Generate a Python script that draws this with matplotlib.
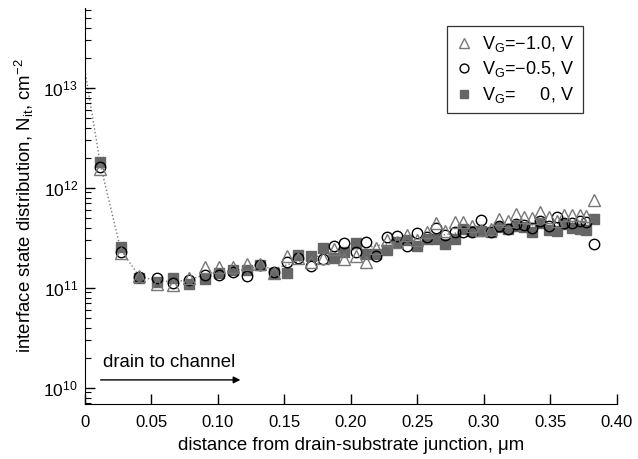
import numpy as np
import matplotlib
matplotlib.use("Agg")
import matplotlib.pyplot as plt
from matplotlib.ticker import LogLocator, FixedLocator

plt.rcParams['font.family'] = ['Liberation Sans', 'DejaVu Sans']
plt.rcParams['mathtext.fontset'] = 'custom'
plt.rcParams['mathtext.rm'] = 'Liberation Sans'
plt.rcParams['mathtext.it'] = 'Liberation Sans:italic'
plt.rcParams['mathtext.default'] = 'regular'

# position along channel, um (shared by all three gate voltages)
x_pos = [0.0117, 0.027, 0.041, 0.054, 0.066, 0.078, 0.090, 0.101, 0.1115, 0.122,
         0.132, 0.142, 0.152, 0.1605, 0.170, 0.179, 0.187, 0.195, 0.204, 0.211,
         0.219, 0.227, 0.235, 0.242, 0.250, 0.257, 0.264, 0.271, 0.278, 0.284,
         0.291, 0.298, 0.305, 0.311, 0.318, 0.324, 0.330, 0.336, 0.342, 0.349,
         0.355, 0.360, 0.366, 0.372, 0.377, 0.383]

# Nit, cm^-2
nit_m10 = [1.54e12, 2.22e11, 1.32e11, 1.10e11, 1.06e11, 1.25e11, 1.63e11, 1.63e11, 1.63e11, 1.73e11,
           1.73e11, 1.42e11, 2.09e11, 1.98e11, 1.83e11, 1.98e11, 2.44e11, 1.94e11, 2.06e11, 1.83e11,
           2.49e11, 3.00e11, 2.90e11, 3.39e11, 3.00e11, 3.66e11, 4.44e11, 3.74e11, 4.52e11, 4.52e11,
           4.17e11, 3.80e11, 3.85e11, 4.87e11, 4.70e11, 5.50e11, 5.16e11, 5.00e11, 5.80e11, 5.16e11,
           4.62e11, 5.37e11, 5.37e11, 5.37e11, 5.20e11, 7.59e11]
nit_m05 = [1.63e12, 2.31e11, 1.28e11, 1.25e11, 1.13e11, 1.20e11, 1.35e11, 1.36e11, 1.44e11, 1.32e11,
           1.70e11, 1.45e11, 1.83e11, 1.98e11, 1.66e11, 1.95e11, 2.63e11, 2.84e11, 2.31e11, 2.90e11,
           2.06e11, 3.26e11, 3.30e11, 2.60e11, 3.52e11, 3.26e11, 3.95e11, 3.39e11, 3.66e11, 3.58e11,
           3.66e11, 4.79e11, 3.60e11, 4.17e11, 3.85e11, 4.37e11, 4.30e11, 4.00e11, 4.62e11, 4.17e11,
           5.10e11, 4.44e11, 4.44e11, 4.70e11, 4.60e11, 2.75e11]
nit_0 = [1.83e12, 2.55e11, 1.25e11, 1.15e11, 1.25e11, 1.10e11, 1.23e11, 1.40e11, 1.50e11, 1.52e11,
         1.68e11, 1.40e11, 1.42e11, 2.14e11, 2.06e11, 2.49e11, 1.98e11, 2.31e11, 2.80e11, 2.20e11,
         2.20e11, 2.40e11, 2.85e11, 3.00e11, 2.63e11, 3.05e11, 3.05e11, 2.73e11, 3.05e11, 3.90e11,
         3.70e11, 3.70e11, 3.60e11, 4.10e11, 3.85e11, 4.20e11, 4.07e11, 3.58e11, 4.50e11, 3.80e11,
         3.70e11, 4.40e11, 4.00e11, 3.90e11, 3.80e11, 4.87e11]

# dotted guide line
fit_x = [0.0, 0.0117, 0.027, 0.041, 0.054, 0.066, 0.078, 0.090, 0.101, 0.122, 0.132, 0.142,
         0.152, 0.170, 0.190, 0.210, 0.230, 0.250, 0.270, 0.290, 0.310, 0.330, 0.350, 0.383]
fit_y = [1.5e13, 1.7e12, 2.4e11, 1.3e11, 1.18e11, 1.15e11, 1.2e11, 1.35e11, 1.45e11, 1.55e11, 1.65e11, 1.55e11,
         1.7e11, 2.0e11, 2.3e11, 2.5e11, 2.8e11, 3.1e11, 3.4e11, 3.7e11, 4.0e11, 4.2e11, 4.4e11, 4.5e11]

fig = plt.figure(figsize=(6.38, 4.59), dpi=100)
ax = fig.add_axes([0.133, 0.12, 0.834, 0.863])

ax.plot(fit_x, fit_y, ls=':', color='#777777', lw=1.0, zorder=1)
ax.plot(x_pos, nit_0, 's', ms=7, color='#666666', mec='#666666', label='V$_G$=     0, V', zorder=2)
ax.plot(x_pos, nit_m05, 'o', ms=7.5, mfc='none', mec='black', mew=1.0, label='V$_G$=\u22120.5, V', zorder=3)
ax.plot(x_pos, nit_m10, '^', ms=8, mfc='none', mec='#777777', mew=1.0, label='V$_G$=\u22121.0, V', zorder=4)

ax.set_yscale('log')
ax.set_xlim(0, 0.40)
ax.set_ylim(10**9.84, 10**13.8)
ax.xaxis.set_major_locator(FixedLocator(np.arange(0, 0.41, 0.05)))
ax.set_xticklabels(['0', '0.05', '0.10', '0.15', '0.20', '0.25', '0.30', '0.35', '0.40'])
ax.yaxis.set_major_locator(LogLocator(base=10, numticks=10))
ax.yaxis.set_minor_locator(LogLocator(base=10, subs=np.arange(2, 10), numticks=20))

for s in ['top', 'right']:
    ax.spines[s].set_visible(False)
ax.tick_params(axis='both', which='major', direction='in', length=7, width=1)
ax.tick_params(axis='x', which='major', labelsize=12, pad=8)
ax.tick_params(axis='y', which='major', labelsize=12.5, pad=5)
ax.tick_params(axis='y', which='minor', direction='in', length=4, width=0.8)

ax.set_xlabel('distance from drain-substrate junction, \u03bcm', fontsize=13.4, labelpad=5)
ax.set_ylabel('interface state distribution, N$_{it}$, cm$^{-2}$', fontsize=13.4, labelpad=5)

ax.text(0.0135, 10**10.25, 'drain to channel', fontsize=13.4, va='center')
ax.annotate('', xy=(0.119, 10**10.08), xytext=(0.0098, 10**10.08),
            arrowprops=dict(arrowstyle='-|>', color='black', lw=1.0, mutation_scale=10))

handles, labels = ax.get_legend_handles_labels()
leg = ax.legend(handles[::-1], labels[::-1], loc='upper right', bbox_to_anchor=(0.953, 0.977),
                fontsize=13, frameon=True, fancybox=False, edgecolor='black',
                handletextpad=0.5, borderpad=0.45, labelspacing=0.3, handlelength=1.0,
                markerscale=0.85)
leg.get_frame().set_linewidth(0.9)

fig.savefig('out.png', dpi=100)
